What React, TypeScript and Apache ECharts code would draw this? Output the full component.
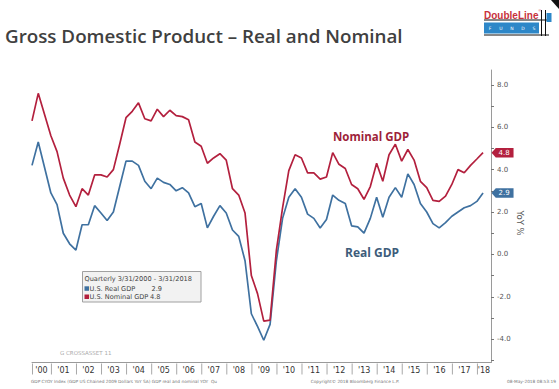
import React, { useEffect, useRef } from 'react';
import * as echarts from 'echarts';

// ---------- data ----------
const years = [2000, 2001, 2002, 2003, 2004, 2005, 2006, 2007, 2008, 2009, 2010, 2011, 2012, 2013, 2014, 2015, 2016, 2017, 2018];
const yearLabels = ["'00", "'01", "'02", "'03", "'04", "'05", "'06", "'07", "'08", "'09", "'10", "'11", "'12", "'13", "'14", "'15", "'16", "'17", "'18"];
const quarterEnds = ['03-31', '06-30', '09-30', '12-31'];
const dates: string[] = [];
for (const y of years) for (const q of quarterEnds) dates.push(`${y}-${q}`);
const quarterDates = dates.slice(0, 73); // 3/31/2000 .. 3/31/2018

const nominalGDP = [
  6.3, 7.6, 6.6, 5.6, 4.85, 3.6, 2.8, 2.25, 3.1, 2.8, 3.75, 3.75, 3.65, 4.0, 5.2, 6.45,
  6.75, 7.15, 6.4, 6.3, 6.85, 6.5, 6.8, 6.55, 6.5, 6.35, 5.3, 5.1, 4.3, 4.55, 4.75, 4.45,
  3.1, 2.8, 1.95, -1.0, -1.85, -3.15, -3.1, 0.2, 2.2, 3.95, 4.7, 4.55, 3.85, 3.85, 3.55, 3.65,
  4.8, 4.25, 4.05, 3.3, 3.1, 2.6, 3.2, 4.3, 3.45, 4.7, 5.2, 4.4, 4.95, 4.45, 3.45, 3.15,
  2.55, 2.5, 2.75, 3.3, 4.0, 3.85, 4.2, 4.5, 4.8,
];
const realGDP = [
  4.2, 5.3, 4.1, 2.9, 2.35, 1.0, 0.5, 0.2, 1.4, 1.4, 2.3, 1.95, 1.6, 2.0, 3.2, 4.4,
  4.4, 4.2, 3.45, 3.1, 3.6, 3.4, 3.3, 3.0, 3.15, 2.9, 2.25, 2.4, 1.25, 1.8, 2.3, 1.95,
  1.15, 0.85, -0.3, -2.8, -3.4, -4.05, -3.3, -0.3, 1.7, 2.7, 3.1, 2.7, 1.9, 1.7, 1.25, 1.65,
  2.8, 2.55, 2.4, 1.35, 1.3, 1.0, 1.7, 2.7, 1.75, 2.7, 3.15, 2.7, 3.8, 3.3, 2.4, 2.0,
  1.45, 1.25, 1.5, 1.8, 2.0, 2.2, 2.3, 2.5, 2.9,
];
const yTickValues = [-5, -4, -3, -2, -1, 0, 1, 2, 3, 4, 5, 6, 7, 8];
const yLabelValues = [-4, -2, 0, 2, 4, 6, 8];

const RED = '#b3203e';
const BLUE = '#3f71a0';
const FONT = 'DejaVu Sans';

export default function App() {
  const ref = useRef<HTMLDivElement>(null);

  useEffect(() => {
    if (!ref.current) return;
    const chart = echarts.init(ref.current, undefined, { renderer: 'svg' });
    const last = quarterDates.length - 1;
    const yearSpans = years.map((y) => [`${y}-01-01`, `${y + 1}-01-01`]);

    const tag = (color: string, value: number, date: string) => ({
      symbol: 'path://M0,5L5,0L26,0L26,10L5,10Z',
      symbolSize: [22, 9.5],
      symbolOffset: [19.5, 0],
      symbolKeepAspect: false,
      silent: true,
      itemStyle: { color },
      label: {
        show: true,
        position: 'inside',
        color: '#ffffff',
        fontSize: 7,
        fontFamily: FONT,
        offset: [1.5, 0.5],
        formatter: (p: any) => Number(p.value).toFixed(1),
      },
      data: [{ coord: [date, value], value }],
    });

    const logoLetters = 'FUNDS'.split('');

    chart.setOption({
      animation: false,
      backgroundColor: '#ffffff',
      grid: { left: 32, right: 68, top: 70, bottom: 26.5, outerBoundsMode: 'none', containLabel: false },
      xAxis: {
        type: 'time',
        min: '2000-03-31',
        max: '2018-07-25',
        axisLine: { show: true, onZero: false, lineStyle: { color: '#9a9a9a', width: 1 } },
        axisTick: { show: false },
        axisLabel: { show: false },
        splitLine: { show: false },
      },
      yAxis: {
        type: 'value',
        position: 'right',
        min: -5.1,
        max: 8.7,
        axisLine: { show: true, lineStyle: { color: '#9a9a9a', width: 1 } },
        axisTick: { show: true, length: 3, customValues: yTickValues, lineStyle: { color: '#777' } },
        axisLabel: {
          show: true,
          customValues: yLabelValues,
          margin: 6,
          fontSize: 7,
          fontFamily: FONT,
          color: '#555',
          formatter: (v: number) => v.toFixed(1),
        },
        splitLine: { show: false },
      },
      series: [
        {
          type: 'line',
          name: 'U.S. Real GDP',
          data: quarterDates.map((d, i) => [d, realGDP[i]]),
          symbol: 'none',
          showSymbol: false,
          lineStyle: { color: BLUE, width: 1.7 },
          itemStyle: { color: BLUE },
          z: 3,
          markPoint: tag(BLUE, realGDP[last], quarterDates[last]),
        },
        {
          type: 'line',
          name: 'U.S. Nominal GDP',
          data: quarterDates.map((d, i) => [d, nominalGDP[i]]),
          symbol: 'none',
          showSymbol: false,
          lineStyle: { color: RED, width: 1.7 },
          itemStyle: { color: RED },
          z: 4,
          markPoint: tag(RED, nominalGDP[last], quarterDates[last]),
        },
        {
          type: 'custom',
          name: 'years',
          clip: false,
          silent: true,
          encode: { x: [0, 1] },
          data: yearSpans,
          renderItem: (params: any, api: any) => {
            const cs = params.coordSys;
            const a = api.coord([api.value(0), 0])[0];
            const b = api.coord([api.value(1), 0])[0];
            const x1 = Math.max(cs.x, a);
            const x2 = Math.min(cs.x + cs.width, b);
            const yb = cs.y + cs.height;
            return {
              type: 'group',
              children: [
                {
                  type: 'line',
                  shape: { x1: x1 + 0.5, y1: yb + 1, x2: x1 + 0.5, y2: yb + 12 },
                  style: { stroke: '#a8a8a8', lineWidth: 1 },
                },
                {
                  type: 'text',
                  x: (x1 + x2) / 2,
                  y: yb + 7.5,
                  style: {
                    text: yearLabels[params.dataIndex],
                    align: 'center',
                    verticalAlign: 'middle',
                    fontSize: 8,
                    fontFamily: FONT,
                    fill: '#333333',
                  },
                },
              ],
            };
          },
        },
      ],
      graphic: [
        // title
        {
          type: 'text', x: 5, y: 26.5,
          style: { text: 'Gross Domestic Product \u2013 Real and Nominal', fontSize: 18.8, fontWeight: 600, fontFamily: 'Open Sans', fill: '#404040' },
        },
        // logo
        {
          type: 'group',
          children: [
            { type: 'text', x: 484, y: 15, style: { text: 'DoubleLine', fontSize: 10, fontWeight: 'bold', fontFamily: 'Liberation Sans', fill: '#c8323c', verticalAlign: 'middle' } },
            { type: 'text', x: 538.5, y: 10.5, style: { text: '\u00ae', fontSize: 3.5, fontFamily: 'Liberation Sans', fill: '#c8323c', verticalAlign: 'middle' } },
            { type: 'line', shape: { x1: 484, y1: 20, x2: 549, y2: 20 }, style: { stroke: '#111', lineWidth: 1 } },
            { type: 'rect', shape: { x: 484, y: 22.5, width: 55, height: 11 }, style: { fill: '#2d87c8' } },
            ...logoLetters.map((ch, i) => ({
              type: 'text', x: 490 + i * 11, y: 28, style: { text: ch, fontSize: 4.5, fontFamily: FONT, fill: '#ffffff', align: 'center', verticalAlign: 'middle' },
            })),
            { type: 'line', shape: { x1: 484, y1: 35, x2: 549, y2: 35 }, style: { stroke: '#111', lineWidth: 1 } },
            { type: 'line', shape: { x1: 541.5, y1: 10, x2: 541.5, y2: 36 }, style: { stroke: '#111', lineWidth: 1 } },
            { type: 'line', shape: { x1: 545.5, y1: 10, x2: 545.5, y2: 36 }, style: { stroke: '#111', lineWidth: 1 } },
            { type: 'rect', shape: { x: 546.5, y: 13, width: 5, height: 9 }, style: { fill: '#2d87c8' } },
            { type: 'polygon', shape: { points: [[551, 0], [559, 0], [559, 9]] }, style: { fill: '#111' } },
          ],
        },
        // annotations
        { type: 'text', x: 333, y: 136, style: { text: 'Nominal GDP', fontSize: 11.5, fontWeight: 'bold', fontFamily: 'Open Sans', fill: '#9e1f3a', verticalAlign: 'middle' } },
        { type: 'text', x: 345, y: 252, style: { text: 'Real GDP', fontSize: 12, fontWeight: 'bold', fontFamily: 'Open Sans', fill: '#3d5c7a', verticalAlign: 'middle' } },
        // axis name
        { type: 'text', x: 520, y: 223, rotation: -Math.PI / 2, style: { text: 'YoY %', fontSize: 8.5, fontFamily: FONT, fill: '#555', align: 'center', verticalAlign: 'middle' } },
        // legend box
        {
          type: 'group',
          children: [
            { type: 'rect', shape: { x: 82.5, y: 271.5, width: 118.5, height: 30.5 }, style: { fill: '#f2f2f2', stroke: '#a0a0a0', lineWidth: 1 } },
            { type: 'text', x: 84.5, y: 279.3, style: { text: 'Quarterly 3/31/2000 - 3/31/2018', fontSize: 6.6, fontFamily: FONT, fill: '#444', verticalAlign: 'middle' } },
            { type: 'rect', shape: { x: 84.5, y: 286.3, width: 4.5, height: 4.5 }, style: { fill: BLUE } },
            { type: 'text', x: 89.5, y: 288.5, style: { text: 'U.S. Real GDP', fontSize: 6.6, fontFamily: FONT, fill: '#444', verticalAlign: 'middle' } },
            { type: 'text', x: 151.5, y: 288.5, style: { text: realGDP[last].toFixed(1), fontSize: 6.6, fontFamily: FONT, fill: '#444', verticalAlign: 'middle' } },
            { type: 'rect', shape: { x: 84.5, y: 294.5, width: 4.5, height: 4.5 }, style: { fill: RED } },
            { type: 'text', x: 89.5, y: 296.8, style: { text: 'U.S. Nominal GDP', fontSize: 6.6, fontFamily: FONT, fill: '#444', verticalAlign: 'middle' } },
            { type: 'text', x: 150, y: 296.8, style: { text: nominalGDP[last].toFixed(1), fontSize: 6.6, fontFamily: FONT, fill: '#444', verticalAlign: 'middle' } },
          ],
        },
        // chart id
        { type: 'text', x: 60, y: 353, style: { text: 'G CROSSASSET 11', fontSize: 5.5, fontFamily: FONT, fill: '#aaaaaa', verticalAlign: 'middle' } },
        // footer
        { type: 'text', x: 31, y: 381, style: { text: 'GDP CYOY Index (GDP US Chained 2009 Dollars YoY SA) GDP real and nominal YOY  Qu', fontSize: 4.3, fontFamily: FONT, fill: '#777', verticalAlign: 'middle' } },
        { type: 'text', x: 355, y: 381, style: { text: 'Copyright\u00a9 2018 Bloomberg Finance L.P.', fontSize: 4.3, fontFamily: FONT, fill: '#777', align: 'center', verticalAlign: 'middle' } },
        { type: 'text', x: 556, y: 381, style: { text: '08-May-2018 08:53:19', fontSize: 4.3, fontFamily: FONT, fill: '#777', align: 'right', verticalAlign: 'middle' } },
      ],
    });
    return () => chart.dispose();
  }, []);

  return (
    <div
      ref={ref}
      style={{ position: 'fixed', left: 0, top: 0, width: 559, height: 389, background: '#fff' }}
    />
  );
}
